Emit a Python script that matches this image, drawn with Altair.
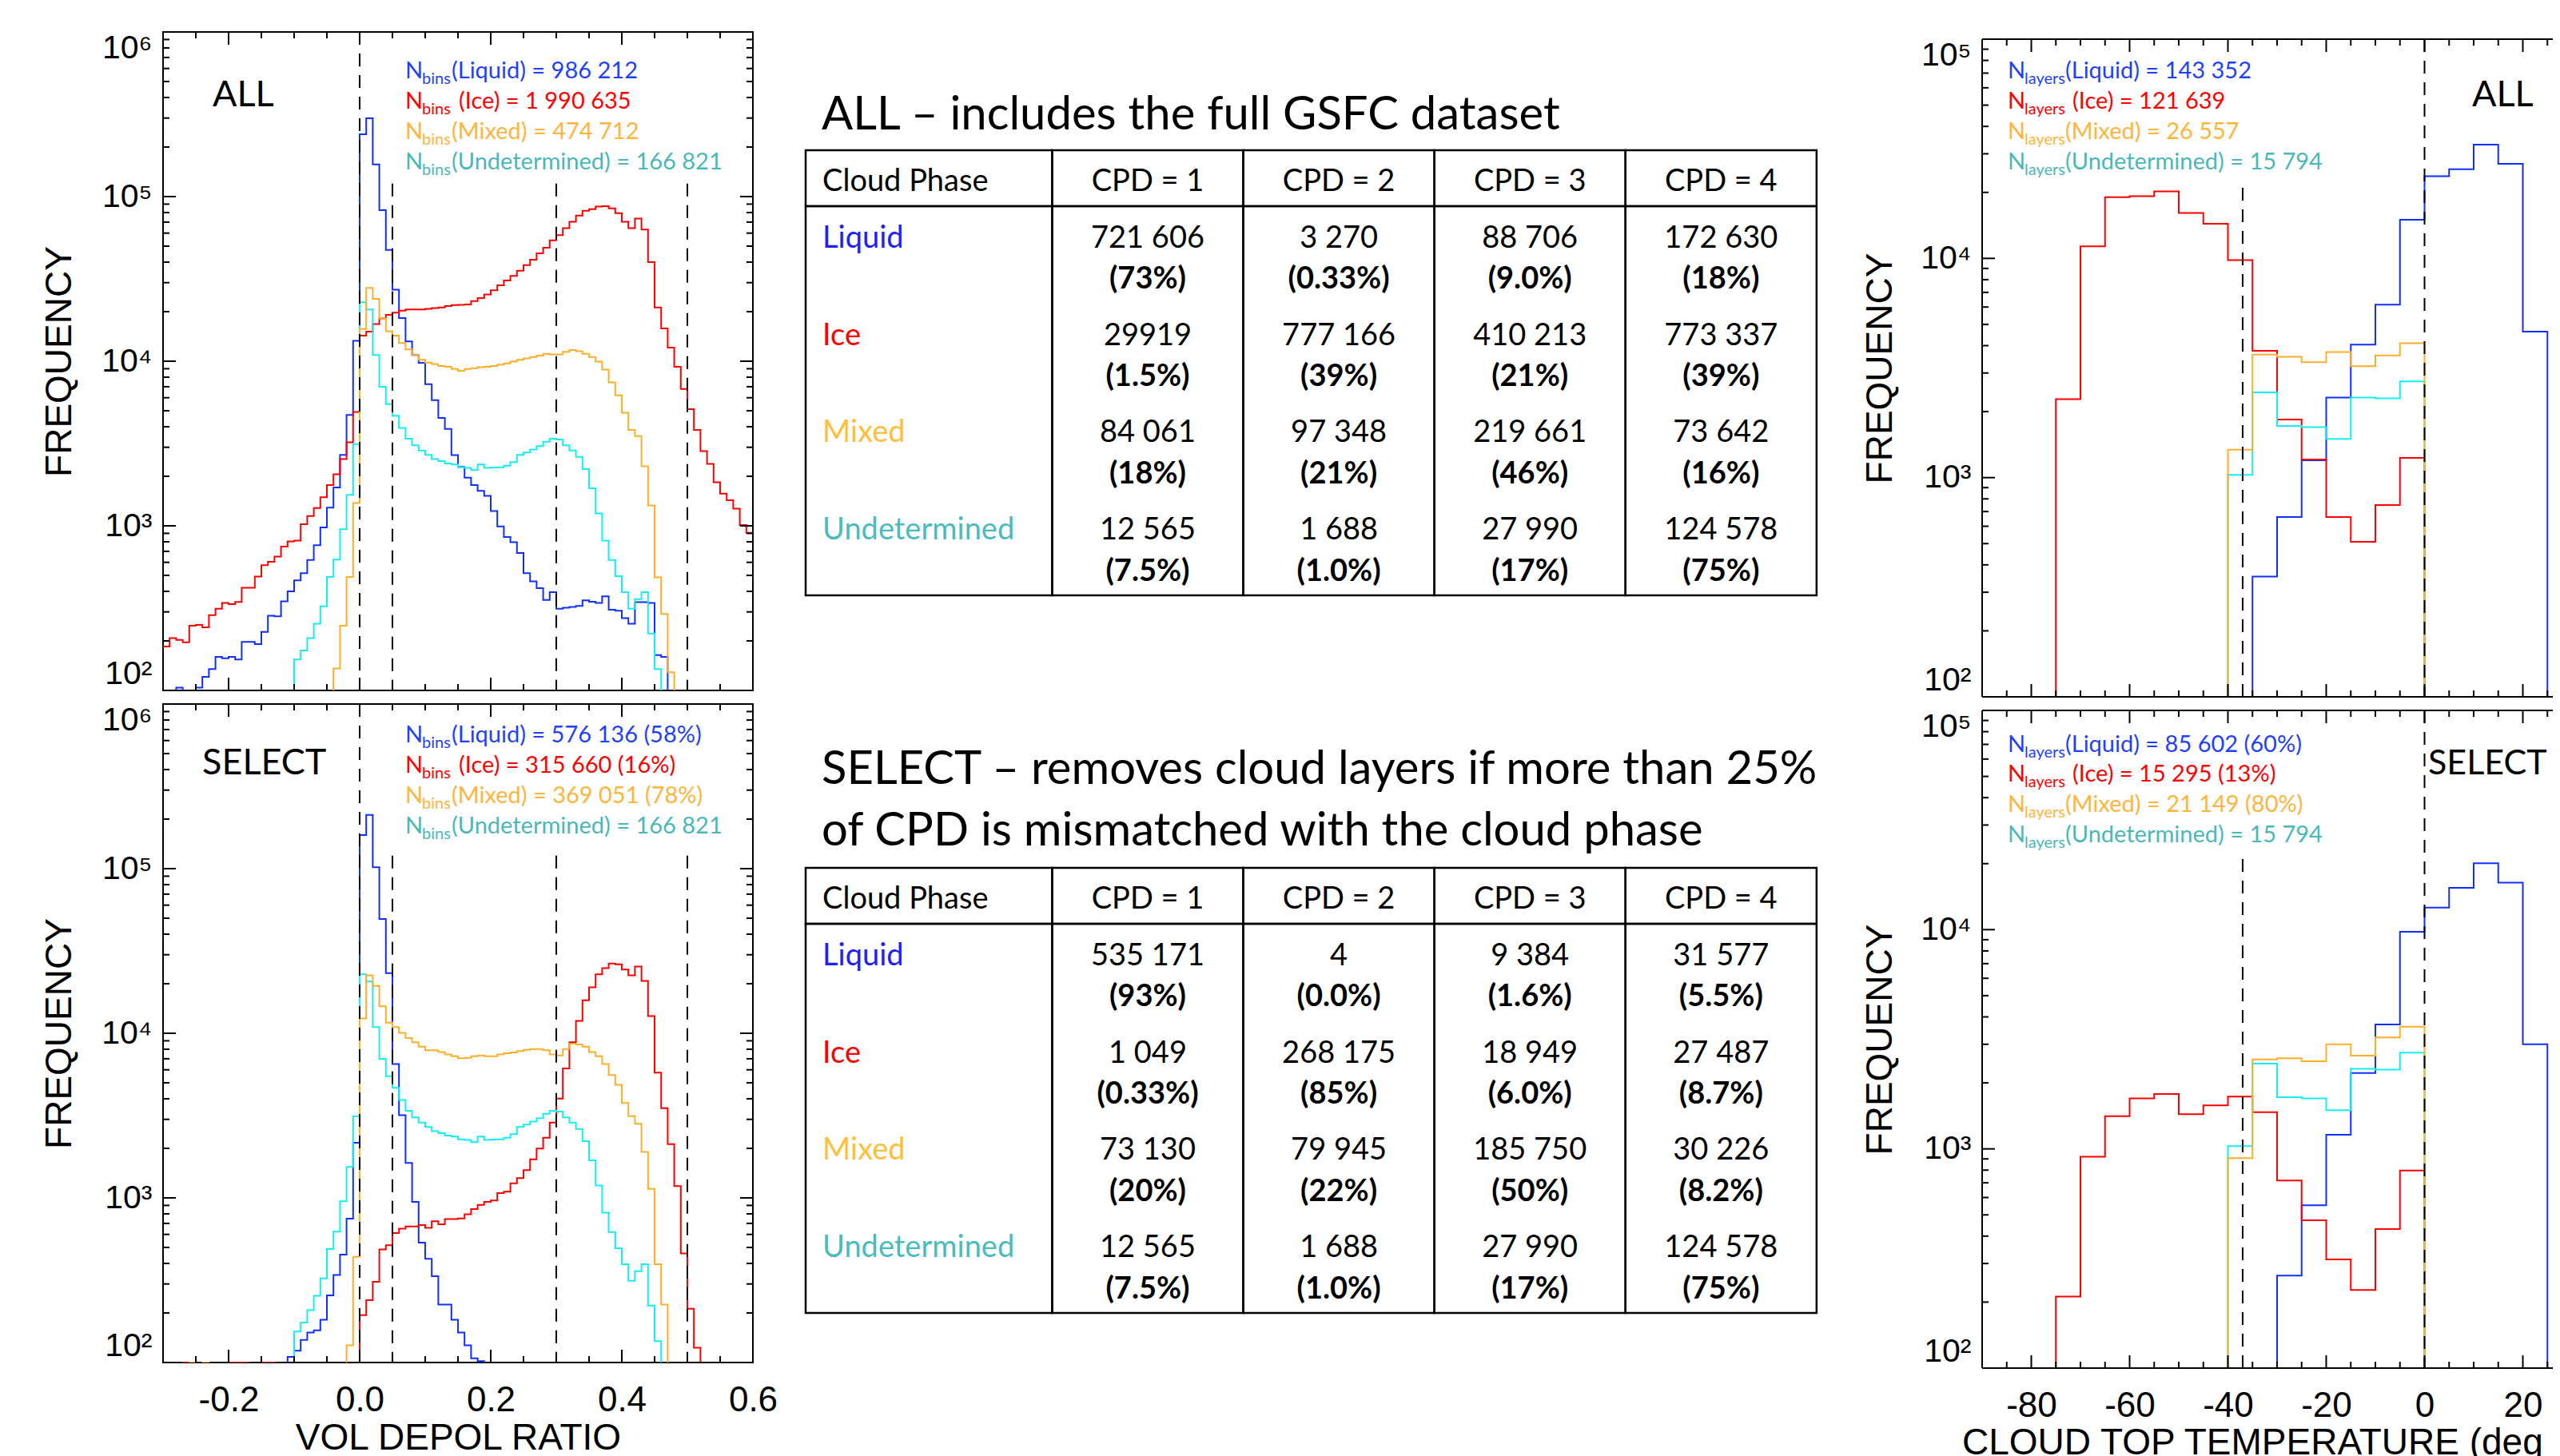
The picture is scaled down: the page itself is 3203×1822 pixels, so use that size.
import math
import altair as alt
import pandas as pd

# ------------------------------------------------------------------ data
SERIES = ["Liquid", "Ice", "Mixed", "Undetermined"]

LINE_COLOR = {"Liquid": "#1030ff", "Ice": "#ff0000", "Mixed": "#ffae2a", "Undetermined": "#14eef2"}
TEXT_COLOR = {"Liquid": "#1f3fff", "Ice": "#ff0000", "Mixed": "#ffb43c", "Undetermined": "#4bb8b8"}
TABLE_COLOR = {"Liquid": "#2020ff", "Ice": "#ff0000", "Mixed": "#ffbf3c", "Undetermined": "#4bbcbc"}

# VOL DEPOL RATIO histograms, bins of 0.01 starting at -0.30 (90 bins); 1 = below plotted range
DEPOL_FIRST = -0.30
DEPOL_BIN = 0.01

LIQ_ALL = [1, 1, 104, 1, 1, 104, 121, 135, 160, 157,
           160, 154, 197, 197, 191, 227, 284, 282, 348, 400,
           466, 516, 620, 762, 977, 1290, 1710, 2700, 4720, 13300,
           239000, 299000, 157000, 82800, 47400, 27200, 18300, 13200, 10900, 9770,
           7260, 5800, 4520, 3880, 2690, 2280, 1960, 1770, 1630, 1520,
           1230, 993, 855, 795, 683, 516, 460, 418, 355, 396,
           314, 318, 322, 326, 353, 346, 340, 373, 309, 305,
           275, 254, 344, 344, 340, 164, 160, 1, 1, 1,
           1, 1, 1, 1, 1, 1, 1, 1, 1, 1]
ICE_ALL = [185, 208, 203, 196, 247, 250, 242, 287, 314, 340,
           334, 345, 421, 421, 492, 576, 604, 650, 748, 804,
           813, 1023, 1148, 1282, 1492, 1767, 2055, 2542, 3220, 4920,
           14300, 15140, 16800, 18200, 19100, 19700, 20300, 20600, 20600, 20600,
           20800, 21000, 21200, 21600, 21900, 22000, 22100, 23200, 24200, 25400,
           27000, 28900, 30900, 33000, 35500, 38400, 41300, 45200, 48900, 54200,
           58300, 64300, 70300, 76600, 81900, 83900, 86900, 87500, 84900, 79400,
           70300, 64300, 73500, 63100, 40000, 21200, 15800, 12100, 9250, 6790,
           5110, 3820, 2840, 2380, 1840, 1570, 1430, 1270, 1010, 908]
MIX_ALL = [1, 1, 1, 1, 1, 1, 1, 1, 1, 1,
           1, 1, 1, 1, 1, 1, 1, 1, 1, 1,
           1, 1, 1, 1, 1, 1, 136, 247, 489, 1376,
           15700, 27900, 23900, 18200, 15200, 14300, 12900, 11800, 10900, 10200,
           9820, 9590, 9360, 9250, 8970, 8750, 8970, 9080, 9190, 9250,
           9360, 9530, 9700, 9940, 10200, 10400, 10600, 10800, 11100, 11000,
           11000, 11400, 11700, 11500, 11100, 10600, 9940, 8900, 7430, 6200,
           4860, 3820, 3510, 2300, 1330, 486, 292, 129, 1, 1,
           1, 1, 1, 1, 1, 1, 1, 1, 1, 1]
UND_DEPOL = [1, 1, 1, 1, 1, 1, 1, 1, 1, 1,
             1, 1, 1, 1, 1, 1, 1, 1, 1, 1,
             154, 175, 208, 254, 324, 489, 624, 953, 1540, 3140,
             22800, 20600, 10900, 7000, 5490, 4660, 3930, 3380, 3080, 2870,
             2700, 2540, 2470, 2390, 2360, 2270, 2250, 2180, 2360, 2250,
             2260, 2270, 2320, 2440, 2700, 2790, 2910, 3050, 3240, 3380,
             3340, 3080, 2870, 2620, 2210, 1690, 1190, 814, 620, 495,
             396, 314, 359, 396, 222, 135, 1, 1, 1, 1,
             1, 1, 1, 1, 1, 1, 1, 1, 1, 1]
LIQ_SEL = [1, 1, 1, 1, 1, 1, 1, 1, 1, 1,
           1, 1, 1, 1, 1, 1, 1, 1, 1, 108,
           118, 137, 152, 157, 182, 256, 340, 452, 748, 2160,
           160000, 212000, 102000, 49500, 23200, 6500, 3180, 1630, 946, 535,
           426, 334, 225, 225, 182, 152, 127, 106, 102, 1,
           1, 1, 1, 1, 1, 1, 1, 1, 1, 1,
           1, 1, 1, 1, 1, 1, 1, 1, 1, 1,
           1, 1, 1, 1, 1, 1, 1, 1, 1, 1,
           1, 1, 1, 1, 1, 1, 1, 1, 1, 1]
ICE_SEL = [100, 100, 1, 100, 1, 1, 1, 1, 1, 1,
           100, 100, 100, 1, 1, 100, 100, 1, 1, 1,
           1, 1, 1, 1, 1, 1, 1, 1, 1, 1,
           194, 239, 309, 486, 516, 612, 650, 670, 670, 683,
           658, 721, 691, 743, 743, 750, 795, 855, 908, 946,
           964, 1069, 1089, 1228, 1320, 1473, 1714, 1994, 2320, 2870,
           4010, 6120, 8810, 11900, 15850, 19000, 22800, 24900, 26500, 26200,
           24400, 22500, 25400, 20800, 12700, 5770, 3510, 2120, 1180, 460,
           212, 123, 1, 1, 1, 1, 1, 1, 1, 1]
MIX_SEL = [1, 1, 1, 1, 100, 1, 100, 1, 1, 1,
           1, 1, 1, 1, 1, 1, 1, 1, 1, 1,
           1, 1, 1, 1, 1, 1, 1, 1, 127, 438,
           12300, 22500, 19400, 14600, 11600, 10900, 10070, 9360, 8810, 8290,
           7890, 7890, 7700, 7430, 7260, 7050, 7100, 7260, 7340, 7260,
           7260, 7430, 7570, 7640, 7800, 7940, 8020, 8020, 7890, 7430,
           7340, 8020, 8650, 8550, 8290, 7700, 7260, 6500, 5580, 4860,
           3770, 3140, 2820, 1900, 1135, 396, 225, 1, 1, 1,
           1, 1, 1, 1, 1, 1, 1, 1, 1, 1]

# CLOUD TOP TEMPERATURE histograms, bins of 5 deg starting at -90 (24 bins)
TEMP_FIRST = -90
TEMP_BIN = 5
LIQ_T_ALL = [1, 1, 1, 1, 1, 1, 1, 1, 1, 1, 1, 354, 661, 1200, 2320, 4040, 6150, 15000, 23700, 25500, 33000, 27000, 4630, 1]
ICE_T_ALL = [1, 100, 1, 2280, 11350, 19000, 19200, 20200, 16100, 14400, 9820, 3790, 1840, 1210, 661, 510, 750, 1230, 1, 1, 1, 1, 1, 1]
MIX_T_ALL = [1, 1, 1, 1, 1, 1, 1, 1, 1, 1, 1340, 3640, 3560, 3360, 3740, 3220, 3610, 4100, 1, 1, 1, 1, 1, 1]
UND_T = [1, 1, 1, 1, 1, 1, 1, 1, 1, 1, 1030, 2450, 1720, 1700, 1500, 2320, 2300, 2750, 1, 1, 1, 1, 1, 1]
LIQ_T_SEL = [1, 1, 1, 1, 1, 1, 1, 1, 1, 1, 1, 1, 264, 553, 1160, 2220, 3690, 9770, 12600, 15500, 20100, 16400, 3000, 1]
ICE_T_SEL = [1, 100, 1, 212, 921, 1410, 1700, 1780, 1440, 1580, 1730, 1470, 717, 472, 313, 227, 431, 796, 1, 1, 1, 1, 1, 1]
MIX_T_SEL = [1, 1, 1, 1, 1, 1, 1, 1, 1, 1, 908, 2560, 2590, 2510, 3000, 2660, 3220, 3610, 1, 1, 1, 1, 1, 1]

NBINS_ALL = ["986 212", "1 990 635", "474 712", "166 821"]
NBINS_SEL = ["576 136 (58%)", "315 660 (16%)", "369 051 (78%)", "166 821"]
NLAYERS_ALL = ["143 352", "121 639", "26 557", "15 794"]
NLAYERS_SEL = ["85 602 (60%)", "15 295 (13%)", "21 149 (80%)", "15 794"]

DEPOL_DASH_X = [0.0, 0.05, 0.3, 0.5]
DEPOL_DASH_TOP = [1e6, 1.2e5, 1.2e5, 1.2e5]
TEMP_DASH_X = [-37, 0]
TEMP_DASH_TOP = [2.1e4, 1e5]

DEPOL_LABELS = [-0.2, 0.0, 0.2, 0.4, 0.6]
DEPOL_MINOR = [-0.25, -0.15, -0.1, -0.05, 0.05, 0.1, 0.15, 0.25, 0.3, 0.35, 0.45, 0.5, 0.55]
TEMP_LABELS = [-80, -60, -40, -20, 0, 20]
TEMP_MINOR = [-85, -75, -70, -65, -55, -50, -45, -35, -30, -25, -15, -10, -5, 5, 10, 15, 25]
DECADES_DEPOL = [1e2, 1e3, 1e4, 1e5, 1e6]
DECADES_TEMP = [1e2, 1e3, 1e4, 1e5]
MINOR_DEPOL = [k * 10 ** d for d in range(2, 6) for k in range(2, 10)]
MINOR_TEMP = [k * 10 ** d for d in range(2, 5) for k in range(2, 10)]

TABLE_HEADER = ["Cloud Phase", "CPD = 1", "CPD = 2", "CPD = 3", "CPD = 4"]
ALL_COUNTS = [["721 606", "3 270", "88 706", "172 630"],
              ["29919", "777 166", "410 213", "773 337"],
              ["84 061", "97 348", "219 661", "73 642"],
              ["12 565", "1 688", "27 990", "124 578"]]
ALL_PCTS = [["(73%)", "(0.33%)", "(9.0%)", "(18%)"],
            ["(1.5%)", "(39%)", "(21%)", "(39%)"],
            ["(18%)", "(21%)", "(46%)", "(16%)"],
            ["(7.5%)", "(1.0%)", "(17%)", "(75%)"]]
SEL_COUNTS = [["535 171", "4", "9 384", "31 577"],
              ["1 049", "268 175", "18 949", "27 487"],
              ["73 130", "79 945", "185 750", "30 226"],
              ["12 565", "1 688", "27 990", "124 578"]]
SEL_PCTS = [["(93%)", "(0.0%)", "(1.6%)", "(5.5%)"],
            ["(0.33%)", "(85%)", "(6.0%)", "(8.7%)"],
            ["(20%)", "(22%)", "(50%)", "(8.2%)"],
            ["(7.5%)", "(1.0%)", "(17%)", "(75%)"]]
ALL_TITLE = ["ALL \u2013 includes the full GSFC dataset"]
SEL_TITLE = ["SELECT \u2013 removes cloud layers if more than 25%",
             "of CPD is mismatched with the cloud phase"]
TEMP_TITLE = "CLOUD TOP TEMPERATURE (deg C)"

# ------------------------------------------------------------------ style / layout
AXIS_FONT = "Liberation Sans"
TEXT_FONT = "Lato"
ONE = pd.DataFrame({"k": [0]})
SUP_EXPR = ("'10' + ['\u2070','\u00b9','\u00b2','\u00b3','\u2074','\u2075','\u2076']"
            "[round(log(datum.value)/LN10)]")
DEPOL_FMT = "replace(format(datum.value, '.1f'), '\u2212', '-')"
TEMP_FMT = "replace(format(datum.value, 'd'), '\u2212', '-')"

PANEL_W = 738
LEFT_H = 824
RIGHT_H = 823
TEMP_FULL = [-90, 30]          # full temperature axis of the original panel
RIGHT_VISIBLE_W = 714          # the figure is cut at the right page edge
RIGHT_PAD = 40                 # room left of the frame so the axis title is not clipped
TEMP_PER_PX = (TEMP_FULL[1] - TEMP_FULL[0]) / PANEL_W
RIGHT_DOMAIN = [TEMP_FULL[0] - RIGHT_PAD * TEMP_PER_PX, TEMP_FULL[0] + RIGHT_VISIBLE_W * TEMP_PER_PX]

NOTE_SIZE = 29
SUB_SIZE = 20

COL_UNITS = [1.29, 1.0, 1.0, 1.0, 1.0]
HEADER_UNITS = 0.575
X_UNIT_PX = 239.1
Y_UNIT_PX = 121.75
TABLE_CHART_W = 1289
NAME_PAD = 0.088


def step_frame(values, first, width):
    xs = [round(first + i * width, 4) for i in range(len(values) + 1)]
    ys = list(values) + [values[-1]]
    return pd.DataFrame({"x": xs, "y": ys})


def text_layer(text, x, y, size, color="black", weight="normal", align="left", clip=False):
    return alt.Chart(ONE).mark_text(
        text=text, font=TEXT_FONT, fontSize=size, fontWeight=weight, color=color,
        align=align, baseline="alphabetic", clip=clip
    ).encode(x=alt.value(x), y=alt.value(y))


def bottom_axis(values, expr, title, W, title_y):
    if title is None:
        return alt.Axis(values=values, labelExpr=expr, labelFont=AXIS_FONT, labelFontSize=44,
                        labelColor="black", labelPadding=60, labelBaseline="alphabetic",
                        labelFlush=False, labelOverlap=False, ticks=False, tickSize=0,
                        domain=False, grid=False, title=None)
    return alt.Axis(values=values, labelExpr=expr, labelFont=AXIS_FONT, labelFontSize=44,
                    labelColor="black", labelPadding=60, labelBaseline="alphabetic",
                    labelFlush=False, labelOverlap=False, ticks=False, tickSize=0,
                    domain=False, grid=False, title=title, titleFont=AXIS_FONT,
                    titleFontSize=46, titleFontWeight="normal", titleColor="black",
                    titleX=W / 2, titleY=title_y, titleBaseline="alphabetic")


def hist_panel(series_values, first, binw, xdom, ydom, W, H, x_major, x_minor, y_major, y_minor,
               dash_x, dash_top, note_x, note_y, counts, sub, sub_w, tag, tag_x, tag_y,
               xaxis, freq_x, top_pad=0, open_right=False, left_pad=0, tag_size=45):
    HT = H + top_pad
    WG = W + left_pad
    ymin, ymax = ydom
    ytop = 10 ** (math.log10(ymax) + top_pad * math.log10(ymax / ymin) / H)
    xs = alt.Scale(domain=xdom, nice=False, zero=False)
    ys = alt.Scale(type="log", domain=[ymin, ytop], nice=False)
    label_baseline = {
        "condition": [
            {"test": f"datum.value >= {y_major[-1] * 0.999}", "value": "top"},
            {"test": f"datum.value <= {y_major[0] * 1.001}", "value": "bottom"},
        ],
        "value": "middle",
    }
    axis_kw = dict(values=y_major, labelExpr=SUP_EXPR, labelFont=AXIS_FONT, labelFontSize=41,
                   labelColor="black", labelPadding=14, labelFlush=False, labelOverlap=False,
                   labelBaseline=label_baseline,
                   ticks=False, tickSize=0, domain=False, grid=False, title="FREQUENCY",
                   titleFont=AXIS_FONT, titleFontSize=46, titleFontWeight="normal",
                   titleColor="black", titleX=freq_x, titleY=top_pad + H / 2,
                   titleBaseline="alphabetic", titleAngle=270)
    if left_pad:
        axis_kw["offset"] = -left_pad
    yaxis = alt.Axis(**axis_kw)
    layers = []
    for name, vals in series_values:
        layers.append(
            alt.Chart(step_frame(vals, first, binw)).mark_line(
                interpolate="step-after", clip=True, strokeWidth=2, color=LINE_COLOR[name]
            ).encode(
                x=alt.X("x:Q", scale=xs, axis=xaxis),
                y=alt.Y("y:Q", scale=ys, axis=yaxis),
            )
        )
    dash_df = pd.DataFrame({"x": dash_x, "top": dash_top, "bottom": [ymin] * len(dash_x)})
    layers.append(
        alt.Chart(dash_df).mark_rule(color="black", strokeWidth=2, strokeDash=[16, 11]).encode(
            x=alt.X("x:Q", scale=xs, axis=xaxis), y=alt.Y("top:Q", scale=ys, axis=yaxis), y2="bottom:Q"
        )
    )
    for vals, L in ((x_major, 16), (x_minor, 8)):
        tdf = pd.DataFrame({"v": vals})
        layers.append(alt.Chart(tdf).mark_rule(color="black", strokeWidth=2).encode(
            x=alt.X("v:Q", scale=xs, axis=xaxis), y=alt.value(HT), y2=alt.value(HT - L)))
        layers.append(alt.Chart(tdf).mark_rule(color="black", strokeWidth=2).encode(
            x=alt.X("v:Q", scale=xs, axis=xaxis), y=alt.value(top_pad), y2=alt.value(top_pad + L)))
    for vals, L in ((y_major, 16), (y_minor, 8)):
        tdf = pd.DataFrame({"v": vals})
        layers.append(alt.Chart(tdf).mark_rule(color="black", strokeWidth=2).encode(
            y=alt.Y("v:Q", scale=ys, axis=yaxis), x=alt.value(left_pad), x2=alt.value(left_pad + L)))
        if not open_right:
            layers.append(alt.Chart(tdf).mark_rule(color="black", strokeWidth=2).encode(
                y=alt.Y("v:Q", scale=ys, axis=yaxis), x=alt.value(WG), x2=alt.value(WG - L)))
    for i, name in enumerate(SERIES):
        c = TEXT_COLOR[name]
        by = note_y[i] + top_pad
        nx = note_x + left_pad
        gap = 9 if name == "Ice" else 0
        layers.append(text_layer("N", nx, by, NOTE_SIZE, c))
        layers.append(text_layer(sub, nx + 21, by + 7, SUB_SIZE, c))
        layers.append(text_layer(f"({name}) = {counts[i]}", nx + sub_w + gap, by, NOTE_SIZE, c))
    layers.append(text_layer(tag, tag_x + left_pad, tag_y + top_pad, tag_size, clip=True))
    props = dict(width=WG, height=HT)
    if open_right or top_pad or left_pad:
        # frame drawn explicitly: top, left and bottom sides (right side lies beyond the page)
        layers.append(alt.Chart(ONE).mark_rule(color="black", strokeWidth=2).encode(
            x=alt.value(left_pad), x2=alt.value(WG), y=alt.value(top_pad)))
        layers.append(alt.Chart(ONE).mark_rule(color="black", strokeWidth=2).encode(
            x=alt.value(left_pad), x2=alt.value(WG), y=alt.value(HT)))
        layers.append(alt.Chart(ONE).mark_rule(color="black", strokeWidth=2).encode(
            x=alt.value(left_pad), y=alt.value(top_pad), y2=alt.value(HT)))
        if not open_right:
            layers.append(alt.Chart(ONE).mark_rule(color="black", strokeWidth=2).encode(
                x=alt.value(WG), y=alt.value(top_pad), y2=alt.value(HT)))
        props["view"] = alt.ViewBackground(strokeOpacity=0)
    return alt.layer(*layers).properties(**props)


def axis_title_strip(text, center, xdom, W, baseline_y, height):
    df = pd.DataFrame({"c": [center]})
    return alt.Chart(df).mark_text(
        text=text, font=AXIS_FONT, fontSize=46, align="center", baseline="alphabetic",
        color="black", clip=True
    ).encode(
        x=alt.X("c:Q", scale=alt.Scale(domain=xdom, nice=False, zero=False), axis=None),
        y=alt.value(baseline_y),
    ).properties(width=W, height=height, view=alt.ViewBackground(strokeOpacity=0))


def table_chart(counts, pcts, title_lines, title_ys, lead):
    edges = [0.0]
    for w in COL_UNITS:
        edges.append(edges[-1] + w)
    total_rows = HEADER_UNITS + 4
    lead_units = lead / Y_UNIT_PX
    xs = alt.Scale(domain=[0, TABLE_CHART_W / X_UNIT_PX], nice=False, zero=False)
    ys = alt.Scale(domain=[-lead_units, total_rows], reverse=True, nice=False, zero=False)
    H = total_rows * Y_UNIT_PX + lead

    cells = []
    for i in range(len(COL_UNITS)):
        cells.append({"x0": edges[i], "x1": edges[i + 1], "y0": 0, "y1": HEADER_UNITS})
        cells.append({"x0": edges[i], "x1": edges[i + 1], "y0": HEADER_UNITS, "y1": total_rows})
    rects = alt.Chart(pd.DataFrame(cells)).mark_rect(
        stroke="black", strokeWidth=2.5, fillOpacity=0
    ).encode(x=alt.X("x0:Q", scale=xs, axis=None), x2="x1:Q",
             y=alt.Y("y0:Q", scale=ys, axis=None), y2="y1:Q")

    centers = [(edges[i] + edges[i + 1]) / 2 for i in range(len(COL_UNITS))]
    head_rows = [{"x": NAME_PAD if i == 0 else centers[i], "y": 0.415, "t": TABLE_HEADER[i],
                  "a": "left" if i == 0 else "center"} for i in range(len(TABLE_HEADER))]
    head = pd.DataFrame(head_rows)
    head_left = alt.Chart(head[head.a == "left"]).mark_text(
        font=TEXT_FONT, fontSize=38, align="left", baseline="alphabetic", color="black"
    ).encode(x=alt.X("x:Q", scale=xs, axis=None), y=alt.Y("y:Q", scale=ys, axis=None), text="t:N")
    head_mid = alt.Chart(head[head.a == "center"]).mark_text(
        font=TEXT_FONT, fontSize=38, align="center", baseline="alphabetic", color="black"
    ).encode(x=alt.X("x:Q", scale=xs, axis=None), y=alt.Y("y:Q", scale=ys, axis=None), text="t:N")

    names = pd.DataFrame([{"x": NAME_PAD, "y": HEADER_UNITS + r + 0.425, "t": n, "c": TABLE_COLOR[n]}
                          for r, n in enumerate(SERIES)])
    name_layer = alt.Chart(names).mark_text(
        font=TEXT_FONT, fontSize=38, align="left", baseline="alphabetic"
    ).encode(x=alt.X("x:Q", scale=xs, axis=None), y=alt.Y("y:Q", scale=ys, axis=None),
             text="t:N", color=alt.Color("c:N", scale=None))

    vals = pd.DataFrame([{"x": centers[c + 1], "y": HEADER_UNITS + r + 0.425, "t": counts[r][c]}
                         for r in range(4) for c in range(4)])
    val_layer = alt.Chart(vals).mark_text(
        font=TEXT_FONT, fontSize=38, align="center", baseline="alphabetic", color="black"
    ).encode(x=alt.X("x:Q", scale=xs, axis=None), y=alt.Y("y:Q", scale=ys, axis=None), text="t:N")

    pc = pd.DataFrame([{"x": centers[c + 1], "y": HEADER_UNITS + r + 0.85, "t": pcts[r][c]}
                       for r in range(4) for c in range(4)])
    pct_layer = alt.Chart(pc).mark_text(
        font=TEXT_FONT, fontSize=38, fontWeight="bold", align="center", baseline="alphabetic",
        color="black"
    ).encode(x=alt.X("x:Q", scale=xs, axis=None), y=alt.Y("y:Q", scale=ys, axis=None), text="t:N")

    layers = [rects, head_left, head_mid, name_layer, val_layer, pct_layer]
    for line, ty in zip(title_lines, title_ys):
        layers.append(text_layer(line, 20, ty + lead, 58))
    return alt.layer(*layers).properties(
        width=TABLE_CHART_W, height=H, view=alt.ViewBackground(strokeOpacity=0))


# ------------------------------------------------------------------ panels
order = ["Liquid", "Ice", "Undetermined", "Mixed"]

dep_all = dict(zip(SERIES, [LIQ_ALL, ICE_ALL, MIX_ALL, UND_DEPOL]))
dep_sel = dict(zip(SERIES, [LIQ_SEL, ICE_SEL, MIX_SEL, UND_DEPOL]))
tmp_all = dict(zip(SERIES, [LIQ_T_ALL, ICE_T_ALL, MIX_T_ALL, UND_T]))
tmp_sel = dict(zip(SERIES, [LIQ_T_SEL, ICE_T_SEL, MIX_T_SEL, UND_T]))

left_top = hist_panel([(n, dep_all[n]) for n in order], DEPOL_FIRST, DEPOL_BIN, [-0.3, 0.6], [100, 1e6],
                      PANEL_W, LEFT_H, DEPOL_LABELS, DEPOL_MINOR, DECADES_DEPOL, MINOR_DEPOL,
                      DEPOL_DASH_X, DEPOL_DASH_TOP, 303, [57.7, 95.7, 133.6, 171.6], NBINS_ALL,
                      "bins", 58, "ALL", 62, 93, None, -116)
left_bot = hist_panel([(n, dep_sel[n]) for n in order], DEPOL_FIRST, DEPOL_BIN, [-0.3, 0.6], [100, 1e6],
                      PANEL_W, LEFT_H, DEPOL_LABELS, DEPOL_MINOR, DECADES_DEPOL, MINOR_DEPOL,
                      DEPOL_DASH_X, DEPOL_DASH_TOP, 303, [47.5, 85.5, 123.5, 161.5], NBINS_SEL,
                      "bins", 58, "SELECT", 49, 88,
                      bottom_axis(DEPOL_LABELS, DEPOL_FMT, "VOL DEPOL RATIO", PANEL_W, 108.5), -116)
right_top = hist_panel([(n, tmp_all[n]) for n in order], TEMP_FIRST, TEMP_BIN, RIGHT_DOMAIN, [100, 1e5],
                       RIGHT_VISIBLE_W, RIGHT_H, TEMP_LABELS, TEMP_MINOR, DECADES_TEMP, MINOR_TEMP,
                       TEMP_DASH_X, TEMP_DASH_TOP, 32, [48.7, 86.7, 124.6, 162.6], NLAYERS_ALL,
                       "layers", 72, "ALL", 613, 84, None, -114, top_pad=9, open_right=True,
                       left_pad=RIGHT_PAD)
right_bot = hist_panel([(n, tmp_sel[n]) for n in order], TEMP_FIRST, TEMP_BIN, RIGHT_DOMAIN, [100, 1e5],
                       RIGHT_VISIBLE_W, RIGHT_H, TEMP_LABELS, TEMP_MINOR, DECADES_TEMP, MINOR_TEMP,
                       TEMP_DASH_X, TEMP_DASH_TOP, 32, [51.5, 89.4, 127.3, 165.3], NLAYERS_SEL,
                       "layers", 72, "SELECT", 558, 80,
                       bottom_axis(TEMP_LABELS, TEMP_FMT, None, RIGHT_VISIBLE_W, 0),
                       -114, open_right=True, left_pad=RIGHT_PAD, tag_size=43)
right_title = axis_title_strip(TEMP_TITLE, sum(TEMP_FULL) / 2, RIGHT_DOMAIN,
                               RIGHT_VISIBLE_W + RIGHT_PAD, 91, 120)

table_all = table_chart(ALL_COUNTS, ALL_PCTS, ALL_TITLE, [-26], lead=148)
table_sel = table_chart(SEL_COUNTS, SEL_PCTS, SEL_TITLE, [-105.5, -28.5], lead=0)

left_col = alt.vconcat(left_top, left_bot, spacing=17, bounds="flush")
mid_col = alt.vconcat(table_all, table_sel, spacing=340, bounds="flush")
right_col = alt.vconcat(right_top, right_bot, right_title, spacing=17, bounds="flush")

chart = alt.hconcat(
    left_col, mid_col, right_col, spacing=32,
    padding={"left": 42, "top": 30, "right": 0, "bottom": 5},
    background="white",
).configure_view(stroke="black", strokeWidth=2)

chart.save("out.html", embed_options={"renderer": "svg", "actions": False})
